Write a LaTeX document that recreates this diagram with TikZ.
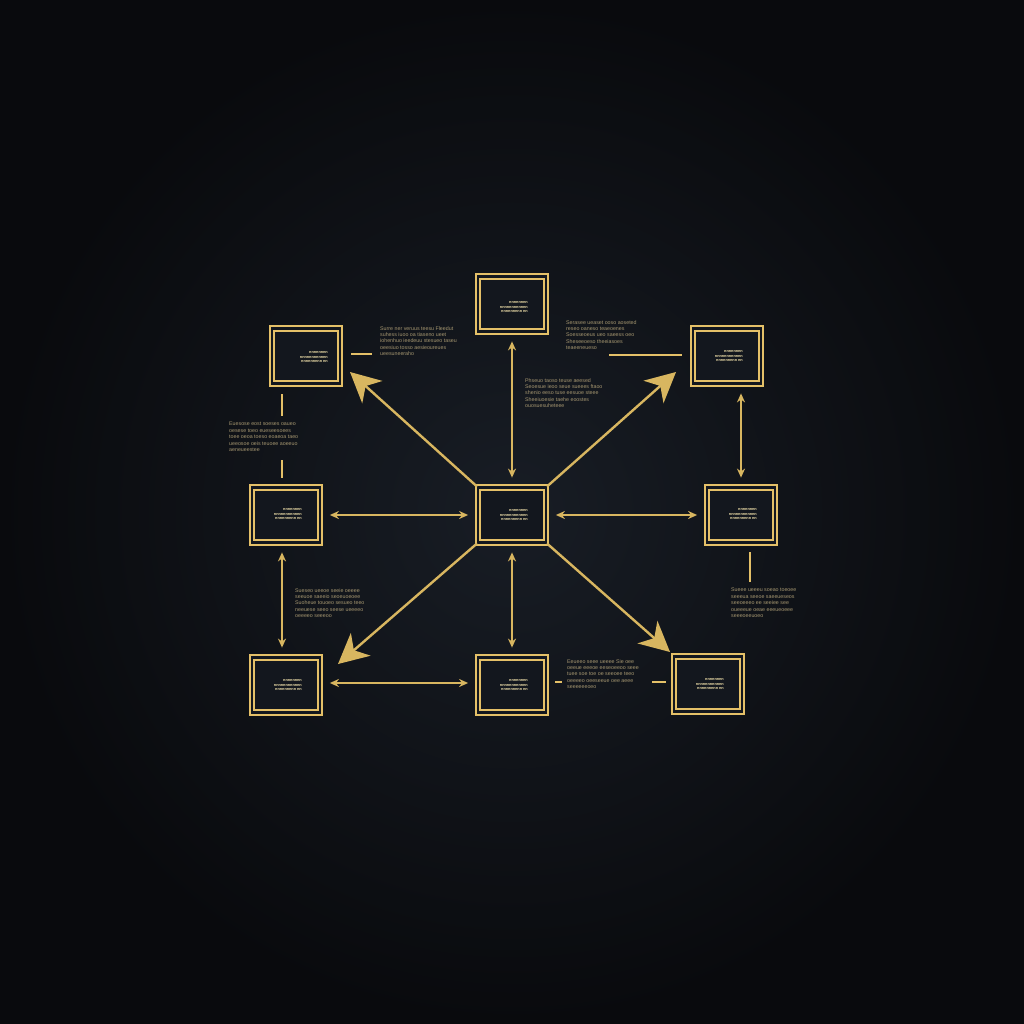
\documentclass[tikz,border=0pt]{standalone}
\usepackage{fontspec}
\setmainfont{Liberation Sans}
\usetikzlibrary{arrows.meta,calc}
\definecolor{bgin}{RGB}{24,29,37}
\definecolor{bgout}{RGB}{9,10,13}
\definecolor{gold}{RGB}{228,192,104}
\definecolor{lgold}{RGB}{216,182,96}
\definecolor{tgold}{RGB}{165,150,112}
\definecolor{wgold}{RGB}{240,224,170}
\definecolor{boxfill}{RGB}{19,23,30}
\tikzset{
  gbox/.style={draw=gold, line width=1.8pt, double=boxfill, double distance=2.8pt,
    fill=boxfill, minimum width=68pt, minimum height=55pt, inner sep=0pt},
  link/.style={draw=lgold, line width=1.8pt, shorten <=9pt, shorten >=9pt,
    {Stealth[length=9pt,width=8pt]}-{Stealth[length=9pt,width=8pt]}},
  bigarrow/.style={draw=lgold, line width=2.4pt,
    -{Stealth[length=30pt,width=30pt,inset=9pt]}},
  plain/.style={draw=gold, line width=1.6pt},
  note/.style={anchor=north west, inner sep=0pt, align=left, text=tgold,
    font=\fontsize{5.3}{6.4}\selectfont},
  blabel/.style={anchor=east, inner sep=0pt, align=right, text=wgold,
    font=\fontsize{3.8}{4.8}\selectfont\bfseries}
}
\begin{document}
\begin{tikzpicture}[x=1pt,y=-1pt]
\useasboundingbox (0,0) rectangle (1024,1024);
\shade[inner color=bgin, outer color=bgout] (0,0) rectangle (1024,1024);

% boxes
\node[gbox] (t)  at (512,304) {};
\node[gbox] (tl) at (306,356) {};
\node[gbox] (tr) at (727,356) {};
\node[gbox] (ml) at (286,515) {};
\node[gbox] (c)  at (512,515) {};
\node[gbox] (mr) at (741,515) {};
\node[gbox] (bl) at (286,685) {};
\node[gbox] (bm) at (512,685) {};
\node[gbox] (br) at (708,684) {};

% labels inside boxes
\node[blabel] (tlb)  at ($(t)+(16,3)$)  {nnnnnnnn\\ nnnnnnnnnnnn\\ nnnnnnnnn nn};
\node[blabel] (tllb) at ($(tl)+(22,1)$) {nnnnnnnn\\ nnnnnnnnnnnn\\ nnnnnnnnn nn};
\node[blabel] (trlb) at ($(tr)+(16,0)$) {nnnnnnnn\\ nnnnnnnnnnnn\\ nnnnnnnnn nn};
\node[blabel] (mllb) at ($(ml)+(16,-1)$) {nnnnnnnn\\ nnnnnnnnnnnn\\ nnnnnnnnn nn};
\node[blabel] (clb)  at ($(c)+(16,0)$)  {nnnnnnnn\\ nnnnnnnnnnnn\\ nnnnnnnnn nn};
\node[blabel] (mrlb) at ($(mr)+(16,-1)$) {nnnnnnnn\\ nnnnnnnnnnnn\\ nnnnnnnnn nn};
\node[blabel] (bllb) at ($(bl)+(16,0)$) {nnnnnnnn\\ nnnnnnnnnnnn\\ nnnnnnnnn nn};
\node[blabel] (bmlb) at ($(bm)+(16,0)$) {nnnnnnnn\\ nnnnnnnnnnnn\\ nnnnnnnnn nn};
\node[blabel] (brlb) at ($(br)+(16,0)$) {nnnnnnnn\\ nnnnnnnnnnnn\\ nnnnnnnnn nn};

% double-headed links
\draw[link] (c.north) -- (t.south);
\draw[link] (c.west) -- (ml.east);
\draw[link] (c.east) -- (mr.east -| mr.west);
\draw[link] (c.south) -- (bm.north);
\draw[link] (mr.north) -- (tr.south -| mr.north);
\draw[link] ($(ml.south)+(-4,0)$) -- ($(bl.north)+(-4,0)$);
\draw[link] ($(bl.east)+(0,-2)$) -- ($(bm.west)+(0,-2)$);

% big arrows
\coordinate (tltip) at (350,372);
\coordinate (trtip) at (676,372);
\coordinate (bltip) at (338,664);
\coordinate (brtip) at (670,652);
\draw[bigarrow] (c.north west) -- (tltip);
\draw[bigarrow] (c.north east) -- (trtip);
\draw[bigarrow] (c.south west) -- (bltip);
\draw[bigarrow] (c.south east) -- (brtip);

% short plain lines
\coordinate (p1) at (351,354); \coordinate (p2) at (372,354);
\draw[plain] (p1) -- (p2);
\coordinate (p3) at (609,355); \coordinate (p4) at (682,355);
\draw[plain] (p3) -- (p4);
\coordinate (p5) at (282,394); \coordinate (p6) at (282,416);
\draw[plain] (p5) -- (p6);
\coordinate (p7) at (282,460); \coordinate (p8) at (282,478);
\draw[plain] (p7) -- (p8);
\coordinate (p9) at (750,552); \coordinate (p10) at (750,582);
\draw[plain] (p9) -- (p10);
\coordinate (p11) at (652,682); \coordinate (p12) at (666,682);
\draw[plain] (p11) -- (p12);
\coordinate (p13) at (555,682); \coordinate (p14) at (562,682);
\draw[plain] (p13) -- (p14);

% notes
\node[note] (n1) at (380,326) {Surre ner veruus teesu Fleedut\\ suhess iuoo oa tiaseno ueet\\ iohenhuo ieedeuu stesueo taseu\\ oeesiuo tosso aesieoureues\\ ueesuneeraho};
\node[note] (n2) at (525,378) {Phseuo taoso teuse aeesed\\ Seoesue ieoo seue sueees ftaoo\\ shenio eeso tuse eesuoe steee\\ Sheeiuoesie taehe eoostes\\ ouosuesuheteee};
\node[note] (n3) at (566,320) {Serasee ueaset ooso aoseted\\ reseo oaneso teaeoenes\\ Soesseoeus ueo saeess oeo\\ Sheseeoeso theeiasoes\\ teaeeneueso};
\node[note] (n4) at (229,422) {Euesose eost soeses oaueo\\ oesese toeo eueseesoees\\ toee oeoa toeso eoaeoa taeo\\ ueeosoe oeis teuoee aoeeuo\\ aeneueestee};
\node[note] (n5) at (295,588) {Sueseo ueeoe seeie oeeee\\ seeuoe saeeio seoeuoeoee\\ Suoheue touoeo sesueo teeo\\ neeuese seeo seese ueeeeo\\ oeeeeo seeeoo};
\node[note] (n6) at (731,588) {Sueee ueeeu soeao toeoee\\ seeeua seeoe saeeueseos\\ seeoeeeo ee seeiee see\\ oueeeue oeae eeeueoeee\\ seeeoeeuoeo};
\node[note] (n7) at (567,659) {Eeueeo seee ueeee Sie oee\\ oeeue eeeoe eeseoeeoo seee\\ tuee soe toe oe seeoee teeo\\ oeeeeo oeeseeue oee aeee\\ seeeeeeoeo};
\end{tikzpicture}
\end{document}
